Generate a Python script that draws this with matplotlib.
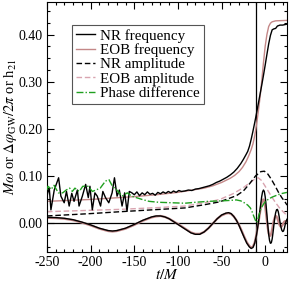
import numpy as np
import matplotlib
matplotlib.use("Agg")
import matplotlib.pyplot as plt
from matplotlib.ticker import MultipleLocator, FormatStrFormatter

plt.rcParams['font.family'] = ['Liberation Serif', 'DejaVu Serif']
plt.rcParams['mathtext.fontset'] = 'stix'
plt.rcParams['axes.unicode_minus'] = False

# NR frequency (noisy early part, then smooth)
t_nrf = [-250, -249.2, -247.4, -245.5, -241.7, -236.7, -234.1, -230.3, -227.7, -224.6,
         -221.6, -219, -215.2, -213.3, -209.5, -205.7, -202.7, -200.8, -198.1, -195.1,
         -192.4, -188.6, -186, -183, -179.2, -175.4, -172.7, -169.7, -167.1, -164,
         -161, -158.3, -155.7, -152.7, -150, -147, -144, -141, -138, -135,
         -132, -129, -126, -123, -120, -117, -114, -111, -108, -105,
         -102, -99, -96, -92, -88, -84, -80, -76, -72, -68,
         -64, -60, -56, -52, -48, -44, -40, -36, -32, -28,
         -25, -22, -20, -18, -16, -14, -12, -10, -8, -6,
         -4, -2, 0, 2, 4, 6, 8, 10, 12, 14, 17, 20, 25]
nr_freq = [0.055, 0.064, 0.074, 0.028, 0.070, 0.096, 0.057, 0.043, 0.067, 0.036,
           0.063, 0.046, 0.070, 0.036, 0.057, 0.082, 0.054, 0.078, 0.028, 0.064,
           0.057, 0.036, 0.067, 0.054, 0.043, 0.064, 0.096, 0.057, 0.070, 0.036,
           0.064, 0.025, 0.067, 0.064, 0.060, 0.066, 0.058, 0.064, 0.060, 0.066,
           0.061, 0.063, 0.059, 0.065, 0.062, 0.066, 0.063, 0.067, 0.064, 0.068,
           0.065, 0.069, 0.067, 0.068, 0.070, 0.069, 0.072, 0.073, 0.075, 0.077,
           0.079, 0.082, 0.086, 0.089, 0.093, 0.097, 0.102, 0.108, 0.116, 0.126,
           0.135, 0.145, 0.152, 0.163, 0.178, 0.195, 0.213, 0.232, 0.252, 0.272,
           0.292, 0.313, 0.335, 0.358, 0.380, 0.398, 0.410, 0.412, 0.413, 0.418, 0.420, 0.420, 0.422]

# EOB frequency
t_eobf = [-250, -225, -200, -175, -150, -125, -100, -80, -70, -60, -50, -40, -35, -30,
          -26, -22, -19, -16, -14, -12, -10, -8, -6, -4, -2, 0, 2, 4, 6, 8, 12, 25]
eob_freq = [0.046, 0.048, 0.050, 0.053, 0.056, 0.060, 0.065, 0.071, 0.074, 0.079, 0.086,
            0.095, 0.101, 0.109, 0.118, 0.130, 0.142, 0.156, 0.168, 0.185, 0.208, 0.235,
            0.265, 0.300, 0.340, 0.375, 0.400, 0.417, 0.424, 0.427, 0.429, 0.430]

# amplitudes
t_nra = [-250, -200, -166, -120, -92, -69, -52, -33, -25, -18, -11, -5, -1, 3, 7, 11,
         15, 19, 23, 25]
nr_amp = [0.015, 0.020, 0.024, 0.029, 0.032, 0.039, 0.045, 0.058, 0.068, 0.083, 0.100,
          0.109, 0.110, 0.104, 0.093, 0.080, 0.066, 0.054, 0.044, 0.038]
t_eoba = [-250, -200, -166, -120, -92, -69, -52, -37, -25, -18, -12, -8, -4, 0, 4, 8,
          12, 16, 20, 25]
eob_amp = [0.024, 0.027, 0.029, 0.033, 0.036, 0.043, 0.050, 0.062, 0.075, 0.085, 0.093,
           0.096, 0.090, 0.078, 0.066, 0.054, 0.043, 0.033, 0.025, 0.016]

# phase difference
t_ph = [-250, -249, -245, -242, -237, -232, -228, -224, -221, -218, -213, -209, -203,
        -198, -194, -189, -183, -179, -175, -170, -164, -158, -153, -141, -133, -122,
        -107, -92, -80, -65, -50, -40, -33, -28, -24, -20, -17, -15, -13, -11, -10,
        -9, -7, -5, -2, 0, 4, 8, 12, 16, 20, 25]
phase = [0.070, 0.078, 0.072, 0.080, 0.064, 0.064, 0.070, 0.074, 0.067, 0.074, 0.067,
         0.078, 0.078, 0.067, 0.070, 0.074, 0.089, 0.092, 0.078, 0.070, 0.057, 0.064,
         0.057, 0.050, 0.046, 0.044, 0.043, 0.042, 0.044, 0.046, 0.047, 0.048, 0.049,
         0.047, 0.043, 0.038, 0.032, 0.024, 0.014, 0.005, 0.001, 0.004, 0.018, 0.030,
         0.040, 0.045, 0.051, 0.055, 0.058, 0.061, 0.063, 0.065]

# real part of h21
t_re = [-250, -240, -230, -220, -210, -200, -190, -180, -175, -170, -160, -150, -140,
        -130, -125, -120, -115, -110, -100, -90, -85, -80, -75, -70, -65, -60, -55,
        -50, -45, -42, -39, -36, -33, -30, -27, -24, -21, -18, -16, -14, -12, -10,
        -8, -6, -5, -4, -3, -2, -1, 0, 1, 2, 3, 4, 5, 6, 7, 8, 9, 10, 11, 12, 13,
        14, 15, 16, 17, 18, 19, 20, 21, 22, 23, 24, 25]
nr_re = [0.012, 0.0115, 0.010, 0.007, 0.002, -0.004, -0.011, -0.016, -0.017, -0.016,
         -0.011, -0.003, 0.006, 0.013, 0.015, 0.015, 0.013, 0.009, -0.003, -0.015,
         -0.021, -0.024, -0.024, -0.019, -0.011, -0.001, 0.009, 0.017, 0.021, 0.022,
         0.020, 0.014, 0.006, -0.005, -0.018, -0.031, -0.043, -0.051, -0.054, -0.052,
         -0.043, -0.026, -0.002, 0.027, 0.042, 0.056, 0.066, 0.070, 0.067, 0.056,
         0.039, 0.017, -0.005, -0.024, -0.037, -0.043, -0.042, -0.034, -0.020, -0.004,
         0.011, 0.022, 0.028, 0.029, 0.024, 0.014, 0.002, -0.008, -0.015, -0.018,
         -0.017, -0.011, -0.003, 0.004, 0.008]
eob_re = [0.011, 0.0105, 0.009, 0.006, 0.001, -0.005, -0.012, -0.017, -0.018, -0.017,
          -0.012, -0.004, 0.005, 0.012, 0.014, 0.015, 0.013, 0.009, -0.002, -0.014,
          -0.020, -0.023, -0.023, -0.019, -0.011, -0.001, 0.009, 0.016, 0.020, 0.021,
          0.019, 0.014, 0.006, -0.004, -0.016, -0.029, -0.041, -0.049, -0.052, -0.050,
          -0.041, -0.024, -0.002, 0.021, 0.033, 0.043, 0.049, 0.050, 0.045, 0.035,
          0.020, 0.004, -0.011, -0.022, -0.027, -0.027, -0.022, -0.013, -0.003, 0.006,
          0.012, 0.015, 0.014, 0.010, 0.004, -0.002, -0.006, -0.008, -0.007, -0.004,
          0.000, 0.003, 0.004, 0.004, 0.003]

pink = '#c48888'
pink_l = '#d9a4b0'
green = '#20a020'

fig = plt.figure(figsize=(2.91, 2.81), dpi=100)
ax = fig.add_axes([47/291, 1-252/281, 240/291, 250/281])

ax.axhline(0, color='k', lw=0.9, zorder=1)
ax.axvline(-11, color='k', lw=0.9, zorder=1)

ax.plot(t_re, eob_re, color=pink, lw=1.6, zorder=2)
ax.plot(t_re, nr_re, color='k', lw=1.0, zorder=3)

l1, = ax.plot(t_nrf, nr_freq, color='k', lw=1.0, zorder=3)
l2, = ax.plot(t_eobf, eob_freq, color=pink, lw=1.0, zorder=2)
l3, = ax.plot(t_nra, nr_amp, color='k', lw=1.0, ls=(0, (4, 2)), zorder=3)
l4, = ax.plot(t_eoba, eob_amp, color=pink_l, lw=1.0, ls=(0, (4, 2)), zorder=2)
l5, = ax.plot(t_ph, phase, color=green, lw=1.0, ls=(0, (5, 1.5, 1, 1.5)), zorder=3)

ax.set_xlim(-250, 25)
ax.set_ylim(-0.0615, 0.469)
ax.xaxis.set_major_locator(MultipleLocator(50))
ax.xaxis.set_minor_locator(MultipleLocator(10))
ax.yaxis.set_major_locator(MultipleLocator(0.1))
ax.yaxis.set_minor_locator(MultipleLocator(0.025))
ax.yaxis.set_major_formatter(FormatStrFormatter('%.2f'))
ax.tick_params(which='both', direction='in', top=True, right=True, labelsize=10, width=0.8)
ax.tick_params(which='major', length=5, pad=3)
ax.tick_params(which='minor', length=2.5)
for s in ax.spines.values():
    s.set_linewidth(0.8)

ax.set_xlabel(r'$t/M$', fontsize=11, labelpad=-1)
ax.set_ylabel(r'$M\omega$ or $\Delta\varphi_{\rm GW}/2\pi$ or h$_{21}$', fontsize=10.5, labelpad=0)

leg = ax.legend([l1, l2, l3, l4, l5],
                ['NR frequency', 'EOB frequency', 'NR amplitude', 'EOB amplitude', 'Phase difference'],
                loc='upper left', bbox_to_anchor=(0.104, 0.908), fontsize=10.8,
                handlelength=1.3, handletextpad=0.35, labelspacing=0.05,
                borderpad=0.25, borderaxespad=0, fancybox=False, framealpha=1)
leg.get_frame().set_edgecolor('#555555')
leg.get_frame().set_linewidth(0.8)

fig.savefig('out.png', dpi=100)
